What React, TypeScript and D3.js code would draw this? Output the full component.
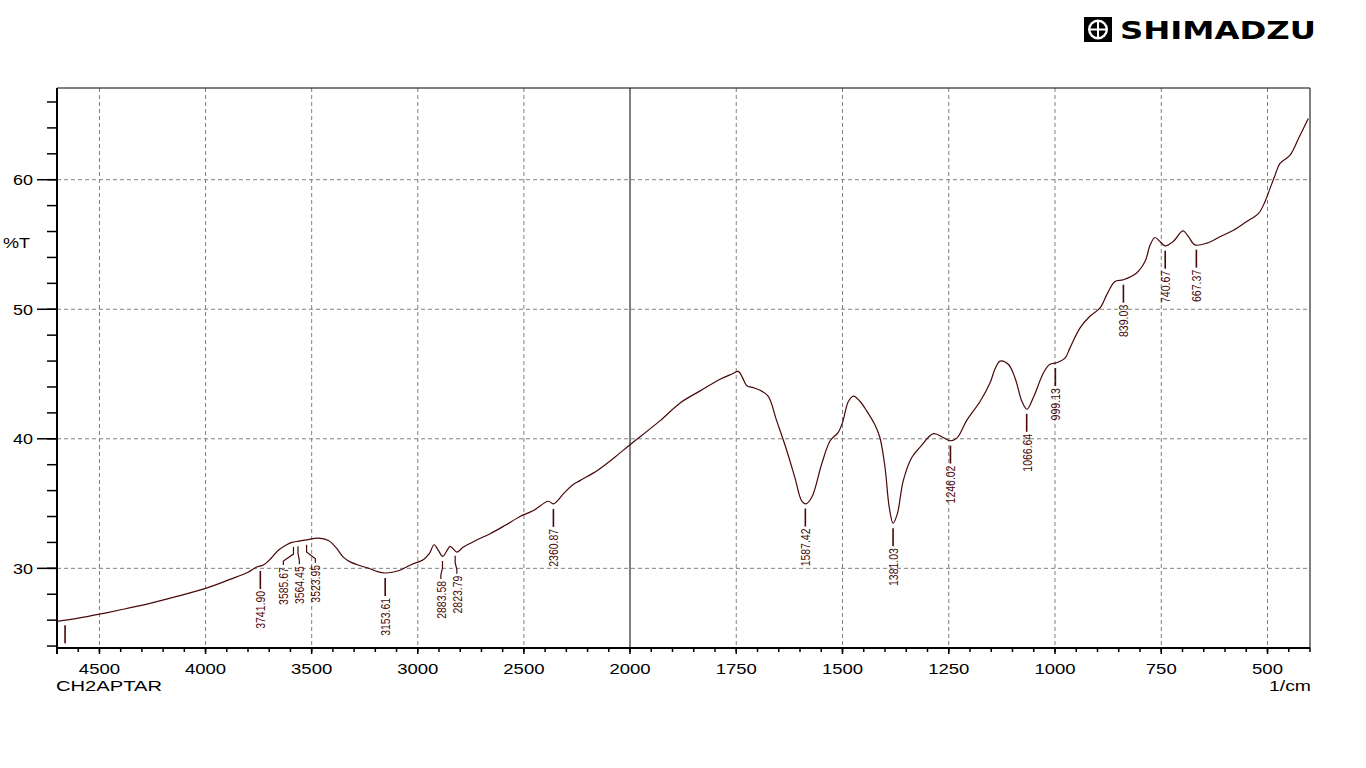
import React from "react";
import * as d3 from "d3";

// ---------- data ----------
const wavenumbers = [
  4700, 4600, 4500, 4400, 4262, 4130, 4000, 3885, 3800, 3759, 3728, 3690, 3657, 3620, 3594, 3560,
  3523, 3468, 3421, 3385, 3351, 3319, 3270, 3225, 3190, 3154, 3120, 3084, 3029, 2974, 2946, 2923,
  2903, 2882, 2865, 2848, 2833, 2816, 2785, 2720, 2659, 2590, 2518, 2455, 2385, 2361, 2314, 2275,
  2236, 2150, 2070, 2000, 1929, 1882, 1835, 1788, 1760, 1745, 1735, 1725, 1710, 1694, 1675, 1655,
  1631, 1612, 1596, 1586, 1572, 1549, 1529, 1510, 1500, 1486, 1474, 1459, 1443, 1424, 1412, 1400,
  1390, 1381, 1371, 1357, 1337, 1318, 1286, 1263, 1247, 1231, 1208, 1176, 1153, 1141, 1129, 1110,
  1094, 1078, 1066, 1051, 1027, 1012, 996, 976, 965, 941, 918, 894, 878, 859, 839, 808, 788, 776,
  765, 753, 741, 722, 699, 686, 671, 643, 612, 580, 549, 521, 506, 494, 482, 471, 447, 427, 404,
];
const transmittance = [
  25.9, 26.15, 26.46, 26.8, 27.3, 27.85, 28.45, 29.15, 29.7, 30.1, 30.25, 30.8, 31.4, 31.8, 32.0, 32.1,
  32.2, 32.33, 32.15, 31.6, 30.87, 30.5, 30.2, 29.97, 29.75, 29.64, 29.7, 29.85, 30.3, 30.67, 31.13, 31.82,
  31.38, 30.92, 31.3, 31.7, 31.5, 31.25, 31.64, 32.2, 32.67, 33.3, 34.0, 34.46, 35.18, 34.97, 35.75, 36.38,
  36.77, 37.6, 38.6, 39.54, 41.4, 42.77, 43.7, 44.6, 45.0, 45.2, 44.7, 44.1, 43.95, 43.74, 43.3, 41.4,
  39.08, 37.0, 35.2, 34.97, 35.5, 38.05, 39.85, 40.5, 41.25, 42.9, 43.3, 42.9, 42.15, 41.1, 40.1, 37.8,
  34.7, 33.48, 34.2, 36.77, 38.56, 39.33, 40.4, 40.1, 39.85, 40.05, 41.4, 42.9, 44.3, 45.4, 46.0, 45.75,
  44.7, 42.9, 42.28, 43.18, 45.1, 45.75, 45.87, 46.25, 47.0, 48.56, 49.46, 50.1, 51.13, 52.15, 52.28, 52.8, 53.7, 54.97,
  55.54, 55.23, 54.9, 55.23, 56.05, 55.6, 54.97, 55.1, 55.6, 56.1, 56.77, 57.4, 58.3, 59.33, 60.36, 61.25, 61.9, 63.18, 64.72,
];

const peakWavenumbers = [
  4662, 3741.9, 3585.67, 3564.45, 3523.95, 3153.61, 2883.58, 2823.79, 2360.87, 1587.42, 1381.03,
  1246.02, 1066.64, 999.13, 839.03, 740.67, 667.37,
];
const peakLabels = [
  "", "3741.90", "3585.67", "3564.45", "3523.95", "3153.61", "2883.58", "2823.79", "2360.87", "1587.42",
  "1381.03", "1246.02", "1066.64", "999.13", "839.03", "740.67", "667.37",
];

const xDomain = [4700, 2000, 400];
const xMajorTicks = [4500, 4000, 3500, 3000, 2500, 2000, 1750, 1500, 1250, 1000, 750, 500];
const yDomain = [23.85, 67.08];
const yMajorTicks = [30, 40, 50, 60];

const sampleName = "CH2APTAR";
const xUnit = "1/cm";
const yUnit = "%T";
const brand = "SHIMADZU";

// ---------- layout ----------
const W = 1366;
const H = 768;
const L = 57, R = 1310, T = 88, B = 648;
const INK = "#4a0808";

export default function App() {
  const x = d3.scaleLinear().domain(xDomain).range([L, 630, R]);
  const y = d3.scaleLinear().domain(yDomain).range([B, T]);

  const pts = wavenumbers.map((w, i) => [x(w), y(transmittance[i])] as [number, number]);
  const line = d3.line().curve(d3.curveCatmullRom.alpha(0.5))(pts) || "";

  const xMinorTicks = [...d3.range(4700, 2000, -100), ...d3.range(2000, 399, -50)];
  const yMinorTicks = d3.range(24, 67, 2);

  const tAt = (w: number) => {
    for (let i = 0; i < wavenumbers.length - 1; i++) {
      const a = wavenumbers[i], b = wavenumbers[i + 1];
      if (w <= a && w >= b) {
        const f = (a - w) / (a - b);
        return transmittance[i] + f * (transmittance[i + 1] - transmittance[i]);
      }
    }
    return transmittance[transmittance.length - 1];
  };

  const MIN_SEP = 16;
  const px = peakWavenumbers.map((w) => x(w));
  const tx = px.slice();
  const labeled = peakLabels.map((l) => l !== "");
  let i = 0;
  while (i < px.length) {
    let j = i;
    while (j + 1 < px.length && labeled[j + 1] && labeled[i] && px[j + 1] - px[j] < MIN_SEP) j++;
    if (j > i) {
      const n = j - i + 1;
      const mean = d3.mean(px.slice(i, j + 1)) as number;
      for (let k = 0; k < n; k++) tx[i + k] = mean + (k - (n - 1) / 2) * MIN_SEP;
    }
    i = j + 1;
  }

  const GAP = 5, LINE = 18, TGAP = 2;
  const fontAxis = "'Liberation Sans', Arial, sans-serif";

  return (
    <svg width={W} height={H} style={{ display: "block", position: "absolute", left: 0, top: 0, background: "#fff" }}>
      <defs>
        <clipPath id="plotClip">
          <rect x={L} y={T} width={R - L} height={B - T} />
        </clipPath>
      </defs>
      <rect x={0} y={0} width={W} height={H} fill="#fff" />

      {/* logo */}
      <g>
        <rect x={1084} y={17} width={28} height={25} fill="#000" />
        <circle cx={1098} cy={29.5} r={10} fill="#fff" />
        <circle cx={1098} cy={29.5} r={7.6} fill="#000" />
        <line x1={1098} y1={21.5} x2={1098} y2={37.5} stroke="#fff" strokeWidth={2} />
        <line x1={1090} y1={29.5} x2={1106} y2={29.5} stroke="#fff" strokeWidth={2} />
        <text x={1120} y={39} fontFamily="'DejaVu Sans', sans-serif" fontWeight={900} fontSize={24}
          textLength={196} lengthAdjust="spacingAndGlyphs" fill="#000">{brand}</text>
      </g>

      {/* grid */}
      {xMajorTicks.filter((t) => t !== 2000).map((t) => (
        <line key={"gx" + t} x1={x(t)} x2={x(t)} y1={T} y2={B} stroke="#808080" strokeDasharray="4,3" strokeWidth={1} />
      ))}
      {yMajorTicks.map((t) => (
        <line key={"gy" + t} x1={L} x2={R} y1={y(t)} y2={y(t)} stroke="#808080" strokeDasharray="4,3" strokeWidth={1} />
      ))}
      <line x1={x(2000)} x2={x(2000)} y1={T} y2={B} stroke="#000" strokeWidth={1} />

      {/* frame */}
      <line x1={L} x2={R} y1={T} y2={T} stroke="#000" strokeWidth={1} />
      <line x1={R} x2={R} y1={T} y2={B} stroke="#000" strokeWidth={1} />
      <line x1={L} x2={L} y1={T} y2={B + 6} stroke="#000" strokeWidth={2} />
      <line x1={L} x2={R} y1={B} y2={B} stroke="#000" strokeWidth={2} />

      {/* x ticks */}
      {xMinorTicks.map((t) => (
        <line key={"xm" + t} x1={x(t)} x2={x(t)} y1={B} y2={B + 4} stroke="#000" strokeWidth={1.5} />
      ))}
      {xMajorTicks.map((t) => (
        <g key={"xt" + t}>
          <line x1={x(t)} x2={x(t)} y1={B} y2={B + 6} stroke="#000" strokeWidth={1.5} />
          <text x={x(t)} y={674} textAnchor="middle" fontFamily={fontAxis} fontSize={15.5}
            textLength={String(t).length * 10.3} lengthAdjust="spacingAndGlyphs" fill="#000">{t}</text>
        </g>
      ))}

      {/* y ticks */}
      {yMinorTicks.map((t) => (
        <line key={"ym" + t} x1={L - 10} x2={L} y1={y(t)} y2={y(t)} stroke="#000" strokeWidth={1.5} />
      ))}
      {yMajorTicks.map((t) => (
        <g key={"yt" + t}>
          <line x1={L - 20} x2={L} y1={y(t)} y2={y(t)} stroke="#000" strokeWidth={1.5} />
          <text x={33} y={y(t) + 5.5} textAnchor="end" fontFamily={fontAxis} fontSize={15.5}
            textLength={20} lengthAdjust="spacingAndGlyphs" fill="#000">{t}</text>
        </g>
      ))}

      <text x={3} y={248} fontFamily={fontAxis} fontSize={15.5} textLength={27} lengthAdjust="spacingAndGlyphs" fill="#000">{yUnit}</text>
      <text x={56} y={691} fontFamily={fontAxis} fontSize={15.5} textLength={106} lengthAdjust="spacingAndGlyphs" fill="#000">{sampleName}</text>
      <text x={1311} y={691} textAnchor="end" fontFamily={fontAxis} fontSize={15.5} textLength={42} lengthAdjust="spacingAndGlyphs" fill="#000">{xUnit}</text>

      {/* spectrum */}
      <g clipPath="url(#plotClip)">
        <path d={line} fill="none" stroke={INK} strokeWidth={1.2} />
      </g>

      {/* peak annotations */}
      <g>
        {peakWavenumbers.map((w, k) => {
          const xp = px[k];
          const xt = tx[k];
          const y0 = y(tAt(w)) + GAP;
          const y1 = y0 + LINE;
          const shifted = Math.abs(xt - xp) > 0.5;
          const d = shifted
            ? `M${xp},${y0} L${xp},${y0 + 7} L${xt},${y0 + 14} L${xt},${y1}`
            : `M${xp},${y0} L${xp},${y1}`;
          const yEnd = Math.min(y1, B - 2);
          return (
            <g key={"pk" + k}>
              {shifted ? (
                <path d={d} fill="none" stroke={INK} strokeWidth={1.2} />
              ) : (
                <line x1={xp} x2={xp} y1={y0} y2={yEnd} stroke={INK} strokeWidth={1.6} />
              )}
              {peakLabels[k] !== "" && (
                <text transform={`translate(${xt},${y1 + TGAP}) rotate(-90)`} textAnchor="end" dy="0.37em"
                  fontFamily={fontAxis} fontSize={13.5} textLength={peakLabels[k].length * 5.4}
                  lengthAdjust="spacingAndGlyphs" fill={INK}>{peakLabels[k]}</text>
              )}
            </g>
          );
        })}
      </g>
    </svg>
  );
}
